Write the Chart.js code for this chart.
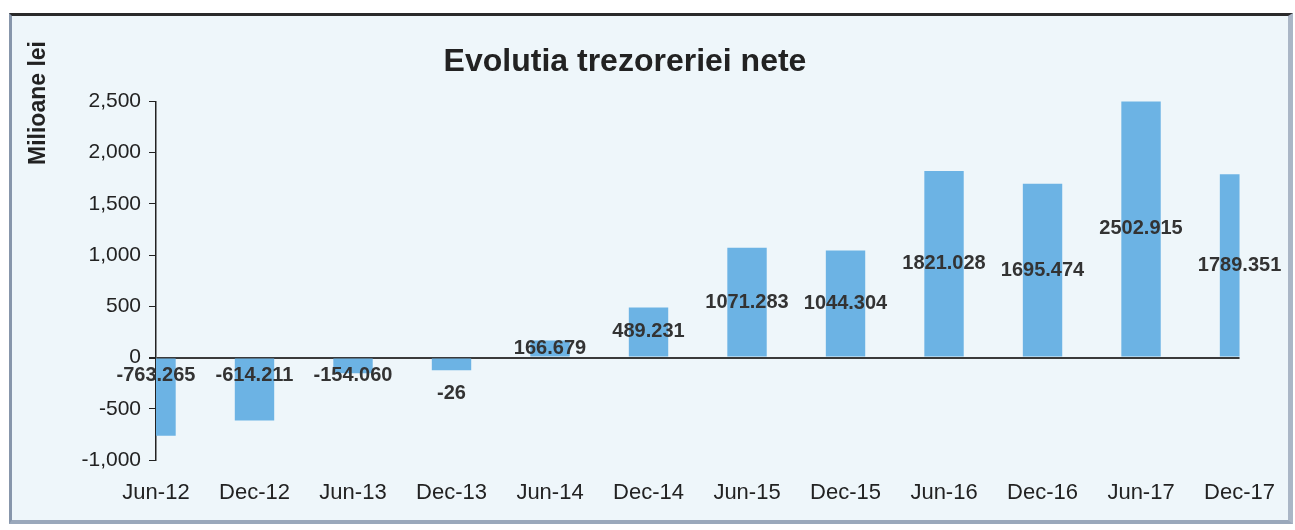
<!DOCTYPE html>
<html>
<head>
<meta charset="utf-8">
<script src="https://cdn.jsdelivr.net/npm/chart.js@4/dist/chart.umd.min.js"></script>
<style>
  html, body { margin: 0; padding: 0; background: #fff; }
  #frame {
    position: absolute; left: 9px; top: 13px; width: 1276px; height: 504px;
    background: #eef6fa;
    border-top: 3px solid #2a2a2a;
    border-left: 3px solid #8796ab;
    border-bottom: 4px solid #9aa8bb;
    border-right: 5px solid #aab6c6;
  }
  #wrap { position: absolute; left: 0; top: 0; width: 1295px; height: 530px; }
</style>
</head>
<body>
<div id="frame"></div>
<div id="wrap"><canvas id="c" width="1295" height="530"></canvas></div>
<script>
var periods = ['Jun-12','Dec-12','Jun-13','Dec-13','Jun-14','Dec-14','Jun-15','Dec-15','Jun-16','Dec-16','Jun-17','Dec-17'];
// bar heights as drawn (milioane lei)
var netTreasury = [-763.265, -614.211, -154.060, -125, 166.679, 489.231, 1071.283, 1044.304, 1821.028, 1695.474, 2502.915, 1789.351];
// printed data labels
var valueLabels = ['-763.265','-614.211','-154.060','-26','166.679','489.231','1071.283','1044.304','1821.028','1695.474','2502.915','1789.351'];
var yMin = -1000, yMax = 2500, yStep = 500;

var FONT = '"Liberation Sans", Arial, sans-serif';

var valueLabelPlugin = {
  id: 'valueLabels',
  afterDatasetsDraw: function(chart) {
    var ctx = chart.ctx;
    var meta = chart.getDatasetMeta(0);
    ctx.save();
    ctx.font = 'bold 20px ' + FONT;
    ctx.fillStyle = '#333';
    ctx.textAlign = 'center';
    ctx.textBaseline = 'middle';
    meta.data.forEach(function(bar, i) {
      var v = netTreasury[i];
      var y = v >= 0 ? (bar.y + bar.base) / 2 : bar.base + 17;
      // very short negative bar: label sits under the bar end
      if (v < 0 && Math.abs(bar.y - bar.base) < 14) y = bar.y + 23;
      ctx.fillText(valueLabels[i], bar.x, y);
    });
    ctx.restore();
  }
};

var axisTitlePlugin = {
  id: 'axisTitle',
  afterDraw: function(chart) {
    var ctx = chart.ctx;
    ctx.save();
    ctx.translate(39, 103);
    ctx.rotate(-Math.PI / 2);
    ctx.font = 'bold 23px ' + FONT;
    ctx.fillStyle = '#222';
    ctx.textAlign = 'center';
    ctx.textBaseline = 'middle';
    ctx.fillText('Milioane lei', 0, 0);
    ctx.restore();
  }
};

new Chart(document.getElementById('c'), {
  type: 'bar',
  data: {
    labels: periods,
    datasets: [{
      data: netTreasury,
      backgroundColor: '#6cb3e4',
      borderWidth: 0,
      barPercentage: 0.5,
      categoryPercentage: 0.8
    }]
  },
  options: {
    responsive: false,
    animation: false,
    layout: { padding: { left: 0, right: 45, top: 0, bottom: 0 } },
    plugins: {
      legend: { display: false },
      tooltip: { enabled: false },
      title: {
        display: true,
        text: 'Evolutia trezoreriei nete',
        color: '#222',
        font: { family: FONT, size: 32, weight: 'bold', lineHeight: 1.2 },
        padding: { top: 43, bottom: 20 }
      }
    },
    scales: {
      x: {
        offset: false,
        border: { display: false },
        grid: { display: false, drawTicks: false, offset: false },
        ticks: { color: '#222', font: { family: FONT, size: 22 }, padding: 20, maxRotation: 0, autoSkip: false },
        afterFit: function(s) { s.height = 70; }
      },
      y: {
        min: yMin, max: yMax,
        border: { display: true, color: '#222', width: 1.5 },
        grid: {
          drawOnChartArea: true,
          color: function(c) { return c.tick && c.tick.value === 0 ? '#3a3a3a' : 'transparent'; },
          lineWidth: function(c) { return c.tick && c.tick.value === 0 ? 2 : 1; },
          tickColor: '#222',
          tickLength: 7
        },
        ticks: {
          stepSize: yStep,
          color: '#222',
          padding: 8,
          font: { family: FONT, size: 21 },
          callback: function(v) { return v.toLocaleString('en-US'); }
        },
        afterFit: function(s) { s.width = 156; }
      }
    }
  },
  plugins: [valueLabelPlugin, axisTitlePlugin]
});
</script>
</body>
</html>
